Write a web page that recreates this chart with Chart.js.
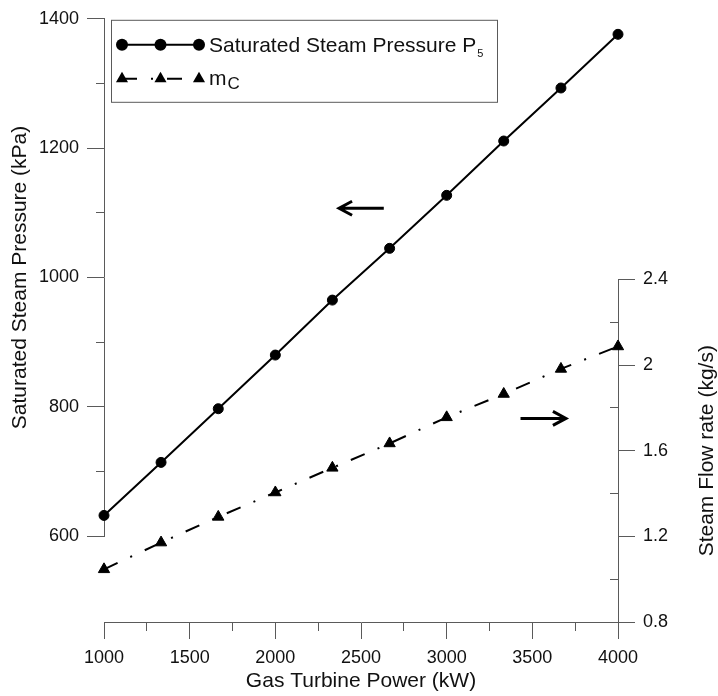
<!DOCTYPE html>
<html>
<head>
<meta charset="utf-8">
<script src="https://cdn.jsdelivr.net/npm/chart.js@4.4.1/dist/chart.umd.min.js"></script>
<style>
  html, body { margin: 0; padding: 0; background: #fff; }
  #wrap { width: 718px; height: 696px; }
</style>
</head>
<body>
<div id="wrap"><canvas id="chart" width="718" height="696"></canvas></div>
<script>
// gas turbine power (kW) on x
const power = [1000, 1333, 1667, 2000, 2333, 2667, 3000, 3333, 3667, 4000];
// saturated steam pressure P5 (kPa), left axis
const pressure = [632, 714, 797, 880, 965, 1045, 1127, 1211, 1293, 1376];
// steam flow rate mC (kg/s), right axis
const steamFlow = [1.046, 1.171, 1.291, 1.405, 1.52, 1.634, 1.756, 1.865, 1.982, 2.087];

const xTickLabels = [1000, 1500, 2000, 2500, 3000, 3500, 4000];
const pTickLabels = [600, 800, 1000, 1200, 1400];
const fTickLabels = [0.8, 1.2, 1.6, 2, 2.4];

// arrows telling which axis each curve belongs to (data coords)
const arrowPressure = { from: [2633, 1107], to: [2372, 1107] };
const arrowFlow = { from: [3431, 1.751], to: [3696, 1.751] };

const FONT = '"Liberation Sans", Arial, sans-serif';
const axisGray = '#5a5a5a';
const textCol = '#111';
const LEFT_W = 104, RIGHT_W = 100, BOTTOM_H = 74;
const plotW = 718 - LEFT_W - RIGHT_W;

function isLabel(list, v) {
    return list.some(l => Math.abs(l - v) < 1e-6);
}

function withMinor(list) {
    const out = [];
    list.forEach((v, i) => {
        out.push({ value: v });
        if (i < list.length - 1) out.push({ value: (v + list[i + 1]) / 2 });
    });
    return out;
}

function tickVal(c) {
    return c.tick ? c.tick.value : NaN;
}

function drawMarker(ctx, style, x, y, r) {
    ctx.beginPath();
    if (style === 'circle') {
        ctx.arc(x, y, r, 0, Math.PI * 2);
    } else {
        ctx.moveTo(x, y - r);
        ctx.lineTo(x + r * 0.866, y + r / 2);
        ctx.lineTo(x - r * 0.866, y + r / 2);
        ctx.closePath();
    }
    ctx.fill();
}

function drawArrow(ctx, x1, y1, x2, y2) {
    const dir = Math.sign(x2 - x1);
    ctx.beginPath();
    ctx.moveTo(x1, y1);
    ctx.lineTo(x2, y2);
    ctx.moveTo(x2 - dir * 13, y2 - 7);
    ctx.lineTo(x2, y2);
    ctx.lineTo(x2 - dir * 13, y2 + 7);
    ctx.stroke();
}

const extras = {
    id: 'extras',
    afterDraw(chart) {
        const ctx = chart.ctx;
        const { x, yP, yF } = chart.scales;
        const area = chart.chartArea;

        // arrows
        ctx.save();
        ctx.strokeStyle = '#000';
        ctx.lineWidth = 3;
        ctx.lineCap = 'butt';
        drawArrow(ctx,
            x.getPixelForValue(arrowPressure.from[0]), yP.getPixelForValue(arrowPressure.from[1]),
            x.getPixelForValue(arrowPressure.to[0]), yP.getPixelForValue(arrowPressure.to[1]));
        drawArrow(ctx,
            x.getPixelForValue(arrowFlow.from[0]), yF.getPixelForValue(arrowFlow.from[1]),
            x.getPixelForValue(arrowFlow.to[0]), yF.getPixelForValue(arrowFlow.to[1]));
        ctx.restore();

        // right axis title, reading upwards like the left one
        ctx.save();
        ctx.translate(yF.right - 11, (yF.top + yF.bottom) / 2);
        ctx.rotate(-Math.PI / 2);
        ctx.font = '21px ' + FONT;
        ctx.fillStyle = textCol;
        ctx.textAlign = 'center';
        ctx.textBaseline = 'middle';
        ctx.fillText('Steam Flow rate (kg/s)', 0, 0);
        ctx.restore();

        // legend box
        const bx = area.left + 7, by = area.top + 1, bw = 386, bh = 82;
        ctx.save();
        ctx.fillStyle = '#fff';
        ctx.fillRect(bx, by, bw, bh);
        ctx.strokeStyle = axisGray;
        ctx.lineWidth = 1;
        ctx.strokeRect(bx + 0.5, by + 0.5, bw, bh);

        const sx1 = bx + 11, sx2 = bx + 88, sxm = (sx1 + sx2) / 2;
        const ds = chart.data.datasets;
        const rows = [
            { y: by + 25, ds: ds[0], r: 6 },
            { y: by + 59, ds: ds[1], r: 7 }
        ];
        rows.forEach(row => {
            ctx.strokeStyle = '#000';
            ctx.fillStyle = '#000';
            ctx.lineWidth = 2;
            ctx.setLineDash(row.ds.borderDash || []);
            ctx.beginPath();
            ctx.moveTo(sx1, row.y);
            ctx.lineTo(sx2, row.y);
            ctx.stroke();
            ctx.setLineDash([]);
            [sx1, sxm, sx2].forEach(px => drawMarker(ctx, row.ds.pointStyle, px, row.y, row.r));
        });

        const tx = bx + 98;
        ctx.fillStyle = textCol;
        ctx.textAlign = 'left';
        ctx.textBaseline = 'alphabetic';
        ctx.font = '21px ' + FONT;
        const t1 = 'Saturated Steam Pressure P';
        ctx.fillText(t1, tx, by + 32.5);
        const w1 = ctx.measureText(t1).width;
        ctx.font = '11px ' + FONT;
        ctx.fillText('5', tx + w1 + 1, by + 37.5);

        ctx.font = '21px ' + FONT;
        ctx.fillText('m', tx, by + 65);
        const w2 = ctx.measureText('m').width;
        ctx.font = '17px ' + FONT;
        ctx.fillText('C', tx + w2 + 1, by + 69);
        ctx.restore();
    }
};

const ctx = document.getElementById('chart').getContext('2d');
const chart = new Chart(ctx, {
    type: 'line',
    data: {
        datasets: [{
            label: 'Saturated Steam Pressure P5',
            data: power.map((p, i) => ({ x: p, y: pressure[i] })),
            yAxisID: 'yP',
            borderColor: '#000',
            backgroundColor: '#000',
            borderWidth: 2,
            pointStyle: 'circle',
            pointRadius: 5,
            pointBorderWidth: 1,
            tension: 0,
            clip: false
        }, {
            label: 'mC',
            data: power.map((p, i) => ({ x: p, y: steamFlow[i] })),
            yAxisID: 'yF',
            borderColor: '#000',
            backgroundColor: '#000',
            borderWidth: 2,
            borderDash: [15, 14, 2, 14],
            pointStyle: 'triangle',
            pointRadius: 6.5,
            pointBorderWidth: 1,
            tension: 0,
            clip: false
        }]
    },
    options: {
        responsive: false,
        animation: false,
        events: [],
        layout: { padding: { top: 18, left: 0, right: 0, bottom: 0 } },
        plugins: { legend: { display: false }, tooltip: { enabled: false } },
        scales: {
            x: {
                type: 'linear',
                position: 'bottom',
                min: xTickLabels[0],
                max: xTickLabels[xTickLabels.length - 1],
                afterBuildTicks: s => { s.ticks = withMinor(xTickLabels); },
                afterFit: s => { s.height = BOTTOM_H; },
                ticks: {
                    autoSkip: false, maxRotation: 0, minRotation: 0, padding: 8,
                    color: textCol, font: { family: FONT, size: 18 },
                    callback: v => isLabel(xTickLabels, v) ? String(v) : ''
                },
                grid: {
                    drawOnChartArea: false, tickLength: 17, tickWidth: 1, lineWidth: 1,
                    tickColor: axisGray,
                    tickBorderDash: c => isLabel(xTickLabels, tickVal(c)) ? [] : [8, 100]
                },
                border: { color: axisGray, width: 1 },
                title: {
                    display: true, text: 'Gas Turbine Power (kW)', color: textCol,
                    font: { family: FONT, size: 21 }, padding: { top: 0, bottom: 2 }
                }
            },
            yPpad: {
                type: 'linear', position: 'left', stack: 'left', stackWeight: 86,
                display: false
            },
            yP: {
                type: 'linear', position: 'left', stack: 'left', stackWeight: 518,
                min: pTickLabels[0],
                max: pTickLabels[pTickLabels.length - 1],
                afterBuildTicks: s => { s.ticks = withMinor(pTickLabels); },
                afterFit: s => { s.width = LEFT_W; },
                ticks: {
                    autoSkip: false, padding: 8, color: textCol, font: { family: FONT, size: 18 },
                    callback: v => isLabel(pTickLabels, v) ? String(v) : ''
                },
                grid: {
                    drawOnChartArea: false, tickLength: 17, tickWidth: 1, lineWidth: 1,
                    tickColor: axisGray,
                    tickBorderDash: c => isLabel(pTickLabels, tickVal(c)) ? [] : [0, 9, 8, 100]
                },
                border: { color: axisGray, width: 1 },
                title: {
                    display: true, text: 'Saturated Steam Pressure (kPa)', color: textCol,
                    font: { family: FONT, size: 21 }, padding: { top: 8, bottom: 0 }
                }
            },
            yFpad: {
                type: 'linear', position: 'right', stack: 'right', stackWeight: 261,
                display: false
            },
            yF: {
                type: 'linear', position: 'right', stack: 'right', stackWeight: 343,
                min: fTickLabels[0],
                max: fTickLabels[fTickLabels.length - 1],
                afterBuildTicks: s => { s.ticks = withMinor(fTickLabels); },
                afterFit: s => { s.width = RIGHT_W; },
                ticks: {
                    autoSkip: false, padding: 8, color: textCol, font: { family: FONT, size: 18 },
                    callback: v => isLabel(fTickLabels, v) ? String(v) : ''
                },
                grid: {
                    drawOnChartArea: true, tickLength: 17, tickWidth: 1, lineWidth: 1,
                    // minor ticks on this axis point inwards: drawn as the last 8px of the grid line
                    color: c => isLabel(fTickLabels, tickVal(c)) ? 'rgba(0,0,0,0)' : axisGray,
                    tickColor: c => isLabel(fTickLabels, tickVal(c)) ? axisGray : 'rgba(0,0,0,0)'
                },
                border: { color: axisGray, width: 1, dash: [0, plotW - 8, 8, 1000] }
            }
        }
    },
    plugins: [extras]
});
</script>
</body>
</html>
